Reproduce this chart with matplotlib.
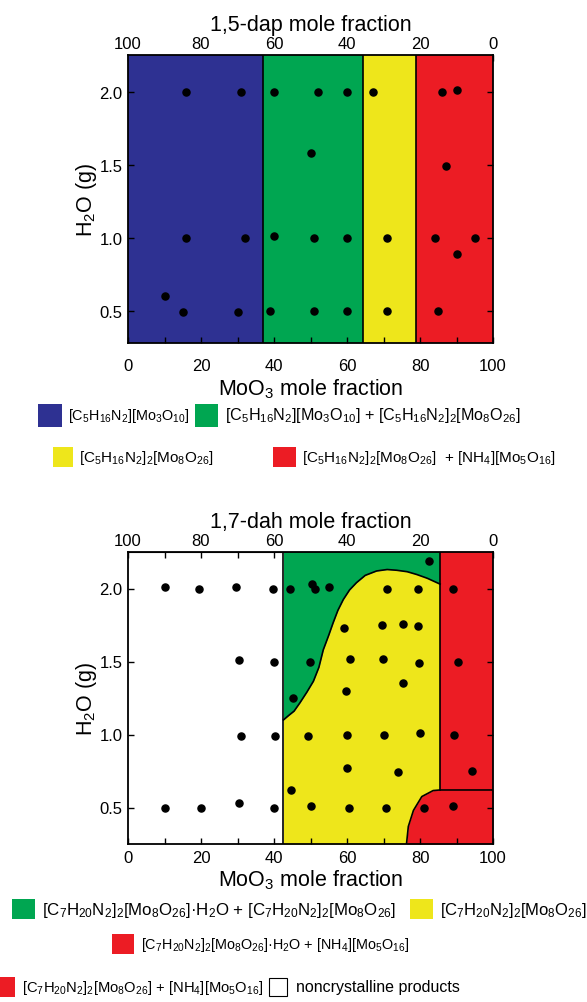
import matplotlib
matplotlib.use("Agg")
from matplotlib import pyplot as plt
from matplotlib.patches import Rectangle

plt.rcParams['font.family'] = ['Liberation Sans', 'DejaVu Sans']
plt.rcParams['mathtext.default'] = 'regular'

BLUE = '#2E3192'
GREEN = '#00A651'
YELLOW = '#EEE61B'
RED = '#EC1C24'

# --- 1,5-dap panel ---
dap_bounds = [0, 37, 64.5, 79, 100]
dap_colors = [BLUE, GREEN, YELLOW, RED]
dap_x = [16, 31, 40, 52, 60, 67, 86, 90,
         50, 87,
         16, 32, 40, 51, 60, 71, 84, 95, 90,
         10, 15, 30, 39, 51, 60, 71, 85]
dap_y = [2.0, 2.0, 2.0, 2.0, 2.0, 2.0, 2.0, 2.01,
         1.58, 1.49,
         1.0, 1.0, 1.01, 1.0, 1.0, 1.0, 1.0, 1.0, 0.89,
         0.6, 0.49, 0.49, 0.5, 0.5, 0.5, 0.5, 0.5]

# --- 1,7-dah panel ---
dah_white_edge = 42.6
dah_red_edge = 85.5
green_curve_x = [42.6, 44, 45.5, 47.1, 49, 50.8, 52.3, 53.5, 55, 56.2, 57.5, 59,
                 60.7, 62.6, 65, 68.1, 71, 73.6, 76.5, 79.1, 82, 85.5]
green_curve_y = [1.10, 1.13, 1.16, 1.217, 1.29, 1.365, 1.46, 1.58, 1.68, 1.765, 1.85, 1.925,
                 1.99, 2.04, 2.09, 2.12, 2.13, 2.125, 2.115, 2.096, 2.07, 2.03]
red_curve_x = [76.3, 76.8, 78.2, 80.5, 83.6, 85.5, 100]
red_curve_y = [0.25, 0.37, 0.48, 0.575, 0.616, 0.62, 0.62]
dah_x = [10, 19.5, 29.6, 39.6, 44.4, 50.3, 51.2, 55.2, 70.9, 79.5, 89.1, 82.6,
         59.3, 69.5, 75.3, 79.5,
         30.5, 40.1, 49.9, 60.8, 69.9, 79.8, 90.5, 75.3, 59.7, 45.3,
         31, 40.3, 49.4, 60, 70.2, 80, 89.3,
         60, 74.1, 94.3, 44.6,
         10, 20, 30.5, 40, 50, 60.6, 70.8, 81.1, 89.1]
dah_y = [2.01, 2.0, 2.01, 2.0, 2.0, 2.03, 2.0, 2.01, 2.0, 2.0, 2.0, 2.19,
         1.73, 1.75, 1.76, 1.74,
         1.51, 1.5, 1.5, 1.52, 1.52, 1.49, 1.5, 1.35, 1.30, 1.25,
         0.99, 0.99, 0.99, 1.0, 1.0, 1.01, 1.0,
         0.77, 0.74, 0.75, 0.62,
         0.5, 0.5, 0.53, 0.5, 0.51, 0.5, 0.5, 0.5, 0.51]

W, H = 587, 1003
fig = plt.figure(figsize=(W / 100, H / 100), dpi=100)


def style_axes(ax, top_label, ylim, pad):
    ax.set_xlim(0, 100)
    ax.set_ylim(*ylim)
    ax.set_xticks([0, 20, 40, 60, 80, 100])
    ax.set_xticks(range(10, 100, 20), minor=True)
    ax.set_yticks([0.5, 1.0, 1.5, 2.0])
    ax.tick_params(which='both', direction='in', length=4, width=1, right=True,
                   labelsize=12, pad=pad)
    ax.tick_params(axis='y', pad=4)
    for s in ax.spines.values():
        s.set_linewidth(1.3)
    ax.set_xlabel('MoO$_3$ mole fraction', fontsize=15.5, labelpad=2)
    ax.set_ylabel('H$_2$O (g)', fontsize=15.5, labelpad=0)
    sec = ax.secondary_xaxis('top', functions=(lambda v: 100 - v, lambda v: 100 - v))
    sec.set_xticks([100, 80, 60, 40, 20, 0])
    sec.set_xticks(range(10, 100, 20), minor=True)
    sec.tick_params(which='both', direction='in', length=4, width=1, labelsize=12, pad=3)
    sec.set_xlabel(top_label, fontsize=15.5, labelpad=4)


# top panel
ax1 = fig.add_axes([128 / W, 1 - 344 / H, 365 / W, 288 / H])
for i, c in enumerate(dap_colors):
    ax1.axvspan(dap_bounds[i], dap_bounds[i + 1], color=c, lw=0)
for b in dap_bounds[1:-1]:
    ax1.axvline(b, color='k', lw=1.2)
ax1.scatter(dap_x, dap_y, s=26, color='k', zorder=5)
style_axes(ax1, '1,5-dap mole fraction', (0.28, 2.25), 11)

# bottom panel
ax2 = fig.add_axes([128 / W, 1 - 845 / H, 365 / W, 292 / H])
ax2.fill_between(green_curve_x, 0.25, green_curve_y, color=YELLOW, lw=0)
ax2.fill_between(green_curve_x, green_curve_y, 2.25, color=GREEN, lw=0)
ax2.axvspan(dah_red_edge, 100, color=RED, lw=0)
ax2.fill_between(red_curve_x, 0.25, red_curve_y, color=RED, lw=0)
ax2.plot(green_curve_x, green_curve_y, color='k', lw=1.2)
ax2.plot(red_curve_x, red_curve_y, color='k', lw=1.2)
ax2.axvline(dah_white_edge, color='k', lw=1.2)
ax2.axvline(dah_red_edge, ymin=(0.62 - 0.25) / 2.0, color='k', lw=1.2)
ax2.scatter(dah_x, dah_y, s=26, color='k', zorder=5)
style_axes(ax2, '1,7-dah mole fraction', (0.25, 2.25), 4)


def swatch(x0, y0, x1, y1, color, edge=False):
    fig.patches.append(Rectangle((x0 / W, 1 - y1 / H), (x1 - x0) / W, (y1 - y0) / H,
                                 transform=fig.transFigure, facecolor=color,
                                 edgecolor='k' if edge else 'none', lw=0.8))


def label(x, y, s, size=11):
    fig.text(x / W, 1 - y / H, s, ha='left', va='center', fontsize=size)


dap = 'C$_5$H$_{16}$N$_2$'
dah = 'C$_7$H$_{20}$N$_2$'
nh4 = '[NH$_4$][Mo$_5$O$_{16}$]'

swatch(38, 405, 62, 428, BLUE)
label(68, 416, '[' + dap + '][Mo$_3$O$_{10}$]', 10.4)
swatch(195, 405, 218, 428, GREEN)
label(225, 416, '[' + dap + '][Mo$_3$O$_{10}$] + [' + dap + ']$_2$[Mo$_8$O$_{26}$]', 11.6)
swatch(53, 448, 73, 468, YELLOW)
label(79, 458, '[' + dap + ']$_2$[Mo$_8$O$_{26}$]')
swatch(273, 448, 296, 468, RED)
label(302, 458, '[' + dap + ']$_2$[Mo$_8$O$_{26}$]  + ' + nh4)

swatch(12, 900, 35, 920, GREEN)
label(42, 911, '[' + dah + ']$_2$[Mo$_8$O$_{26}$]·H$_2$O + [' + dah + ']$_2$[Mo$_8$O$_{26}$]', 12.2)
swatch(410, 900, 433, 920, YELLOW)
label(440, 911, '[' + dah + ']$_2$[Mo$_8$O$_{26}$]', 12)
swatch(112, 935, 134, 955, RED)
label(141, 945, '[' + dah + ']$_2$[Mo$_8$O$_{26}$]·H$_2$O + ' + nh4, 10.4)
swatch(-7, 978, 15, 998, RED)
label(22, 988, '[' + dah + ']$_2$[Mo$_8$O$_{26}$] + ' + nh4, 10.6)
swatch(269, 979, 287, 997, 'white', edge=True)
label(296, 988, 'noncrystalline products', 11.5)

fig.savefig('out.png', dpi=100)
